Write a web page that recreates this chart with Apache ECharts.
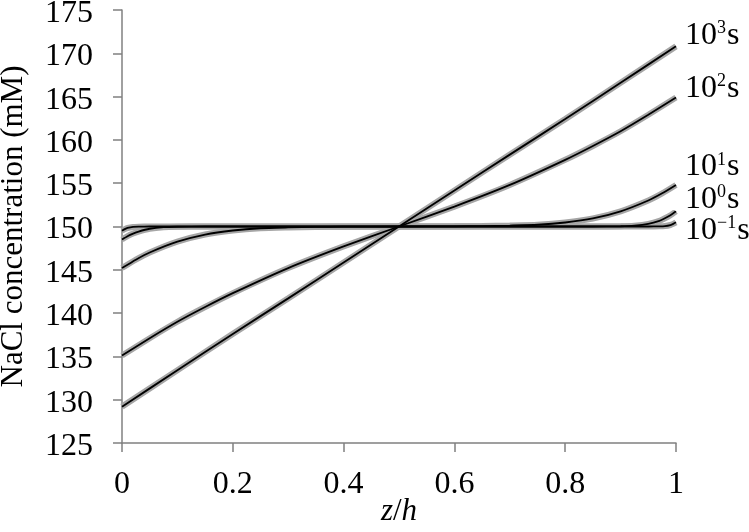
<!DOCTYPE html>
<html>
<head>
<meta charset="utf-8">
<script src="https://cdn.jsdelivr.net/npm/echarts@6/dist/echarts.min.js"></script>
<style>html,body{margin:0;padding:0;background:#fff;}#c{width:749px;height:532px;}</style>
</head>
<body>
<div id="c"></div>
<script>
// z/h positions and NaCl concentrations (mM) for each time
var z1000 = [0, 0.1, 0.2, 0.3, 0.4, 0.5, 0.6, 0.7, 0.8, 0.9, 1];
var c1000 = [129.2, 133.4, 137.6, 141.7, 145.85, 150, 154.15, 158.3, 162.4, 166.6, 170.8];

var z100 = [0, 0.05, 0.1, 0.15, 0.2, 0.3, 0.4, 0.5, 0.6, 0.7, 0.8, 0.85, 0.9, 0.95, 1];
var c100 = [135.1, 137.1, 139.0, 140.7, 142.3, 145.2, 147.7, 150, 152.3, 154.8, 157.7, 159.3, 161.0, 162.9, 164.9];

var z10 = [0, 0.025, 0.05, 0.1, 0.15, 0.2, 0.25, 0.3, 0.35, 0.4, 0.5, 0.6, 0.65, 0.7, 0.75, 0.8, 0.85, 0.9, 0.95, 0.975, 1];
var c10 = [145.2, 146.17, 147.0, 148.25, 149.07, 149.54, 149.8, 149.89, 149.95, 149.98, 150, 150.02, 150.05, 150.11, 150.2, 150.46, 150.93, 151.75, 153.0, 153.83, 154.8];

var z1 = [0, 0.01, 0.02, 0.03, 0.05, 0.075, 0.1, 0.15, 0.5, 0.85, 0.9, 0.925, 0.95, 0.97, 0.98, 0.99, 1];
var c1 = [148.5, 148.88, 149.18, 149.42, 149.74, 149.92, 149.97, 150, 150, 150, 150.03, 150.1, 150.3, 150.65, 150.95, 151.3, 151.75];

var z01 = [0, 0.005, 0.01, 0.02, 0.03, 0.05, 0.5, 0.95, 0.97, 0.98, 0.99, 0.995, 1];
var c01 = [149.52, 149.7, 149.83, 149.95, 149.98, 150, 150, 150, 150.02, 150.05, 150.17, 150.3, 150.48];

var seriesNames = ['10^3 s', '10^2 s', '10^1 s', '10^0 s', '10^-1 s'];
var exponents = ['3', '2', '1', '0', '\u22121'];
var xTicks = [0, 0.2, 0.4, 0.6, 0.8, 1];
var yTicks = [125, 130, 135, 140, 145, 150, 155, 160, 165, 170, 175];

var zs = [z1000, z100, z10, z1, z01];
var cs = [c1000, c100, c10, c1, c01];
var labelOffsets = [[0, -11], [0, -9], [0, -18], [0, -12], [0, 8]];

function pairs(z, c) { return z.map(function (v, i) { return [v, c[i]]; }); }

var FONT = '"Liberation Serif", "Times New Roman", serif';
var series = [];
zs.forEach(function (z, i) {
  series.push({
    name: seriesNames[i] + ' sim', type: 'line', data: pairs(z, cs[i]),
    showSymbol: false, smooth: 0.2, z: 2,
    lineStyle: { color: '#a6a6a6', width: 6 }, silent: true
  });
});
zs.forEach(function (z, i) {
  series.push({
    name: seriesNames[i], type: 'line', data: pairs(z, cs[i]),
    showSymbol: false, smooth: 0.2, z: 3,
    lineStyle: { color: '#000', width: 1.8 }, silent: true,
    labelLayout: { hideOverlap: false },
    endLabel: {
      show: true, distance: 9, offset: labelOffsets[i],
      formatter: '{n|10}{s|' + exponents[i] + '}{n|s}',
      rich: {
        n: { fontFamily: FONT, fontSize: 32, color: '#000' },
        s: { fontFamily: FONT, fontSize: 18, color: '#000', verticalAlign: 'top', padding: [0, 1, 0, 0] }
      }
    }
  });
});

var chart = echarts.init(document.getElementById('c'), null, { renderer: 'canvas' });
chart.setOption({
  animation: false,
  backgroundColor: '#fff',
  grid: { left: 122, right: 73, top: 10, bottom: 89, containLabel: false, outerBoundsMode: 'none' },
  xAxis: {
    type: 'value', min: 0, max: 1, interval: 0.2,
    name: '{i|z}{n|/}{i|h}', nameLocation: 'middle', nameGap: 53, nameMoveOverlap: false,
    nameTextStyle: { rich: {
      i: { fontFamily: FONT, fontSize: 31, lineHeight: 31, fontStyle: 'italic', color: '#000' },
      n: { fontFamily: FONT, fontSize: 31, lineHeight: 31, color: '#000' } } },
    axisLine: { lineStyle: { color: '#808080', width: 1.5 } },
    axisTick: { inside: false, length: 9, lineStyle: { color: '#808080', width: 1.5 } },
    axisLabel: { margin: 26, fontFamily: FONT, fontSize: 32, color: '#000',
      formatter: function (v) { return xTicks.indexOf(Math.round(v * 10) / 10) >= 0 ? String(Math.round(v * 10) / 10) : ''; } },
    splitLine: { show: false }
  },
  yAxis: {
    type: 'value', min: 125, max: 175, interval: 5,
    name: 'NaCl concentration (mM)', nameLocation: 'middle', nameGap: 93, nameMoveOverlap: false,
    nameTextStyle: { fontFamily: FONT, fontSize: 31, color: '#000' },
    axisLine: { show: true, lineStyle: { color: '#808080', width: 1.5 } },
    axisTick: { show: true, inside: false, length: 9, lineStyle: { color: '#808080', width: 1.5 } },
    axisLabel: { margin: 29, color: '#000',
      rich: { t: { fontFamily: FONT, fontSize: 32, color: '#000', padding: [7, 0, 0, 0] } },
      formatter: function (v) { return yTicks.indexOf(v) >= 0 ? '{t|' + v + '}' : ''; } },
    splitLine: { show: false }
  },
  series: series
});
</script>
</body>
</html>
